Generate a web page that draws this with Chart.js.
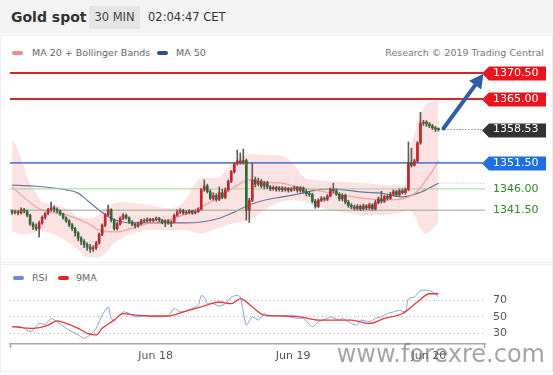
<!DOCTYPE html>
<html>
<head>
<meta charset="utf-8">
<script src="https://cdn.jsdelivr.net/npm/chart.js@4.4.1/dist/chart.umd.min.js"></script>
<style>
  body { margin: 0; background: #fff; font-family: "DejaVu Sans", sans-serif; }
  #wrap { position: relative; width: 553px; height: 375px; overflow: hidden; background: #fff; }
  .abs { position: absolute; white-space: nowrap; }
  #header { left: 0; top: 0; width: 553px; height: 34px; background: #f4f4f4; }
  #title { left: 11px; top: 6px; line-height: 23px; font-size: 14px; font-weight: bold; color: #333; }
  #period { left: 89px; top: 6px; width: 51px; height: 23px; line-height: 23px; background: #e5e5e5; text-align: center; font-size: 11.5px; color: #444; }
  #clock { left: 148px; top: 6px; line-height: 23px; font-size: 11.5px; color: #333; }
  .panel { border: 1px solid #eeeeee; }
  .lg { font-size: 9.5px; color: #666; line-height: 12px; }
  .sw { height: 4px; width: 11px; border-radius: 2px; }
  #mark { right: 8px; top: 340px; font-size: 24px; color: rgba(105, 105, 105, 0.6); }
</style>
</head>
<body>
<div id="wrap">
  <div id="header" class="abs"></div>
  <div id="title" class="abs">Gold spot</div>
  <div id="period" class="abs">30 MIN</div>
  <div id="clock" class="abs">02:04:47 CET</div>

  <div class="abs panel" style="left:0;top:35px;width:551px;height:226px"></div>
  <div class="abs panel" style="left:0;top:264px;width:551px;height:106px"></div>

  <div class="abs sw" style="left:12px;top:51px;background:#f08a8a"></div>
  <div class="abs lg" style="left:32px;top:47px">MA 20 + Bollinger Bands</div>
  <div class="abs sw" style="left:157px;top:51px;background:#2c4e8a"></div>
  <div class="abs lg" style="left:176px;top:47px">MA 50</div>
  <div class="abs lg" style="right:9px;top:47px;color:#777">Research © 2019 Trading Central</div>

  <div class="abs sw" style="left:13px;top:276px;background:#6a8ad8"></div>
  <div class="abs lg" style="left:32px;top:272px">RSI</div>
  <div class="abs sw" style="left:58px;top:276px;background:#e02525"></div>
  <div class="abs lg" style="left:76px;top:272px">9MA</div>

  <canvas id="priceChart" class="abs" width="553" height="196" style="left:0;top:62px"></canvas>
  <canvas id="rsiChart" class="abs" width="553" height="80" style="left:0;top:284px"></canvas>

  <div id="mark" class="abs">www.forexre.com</div>
</div>

<script>
// Gold spot 30 min – candles, MA20 + Bollinger, MA50, key levels, RSI panel

const opens = [
  1341.3, 1341.0, 1341.2, 1340.9, 1341.6, 1341.3, 1340.4, 1338.6, 1338.0, 1337.6,
  1338.8, 1340.0, 1340.8, 1341.6, 1342.0, 1341.7, 1341.3, 1340.7, 1339.9, 1339.2,
  1338.4, 1337.6, 1336.7, 1335.6, 1334.9, 1334.2, 1333.7, 1333.3, 1333.6, 1334.6,
  1336.4, 1338.3, 1340.5, 1341.6, 1339.4, 1337.6, 1338.6, 1339.8, 1340.4, 1339.9,
  1339.0, 1338.5, 1338.2, 1338.6, 1339.3, 1339.2, 1339.6, 1339.3, 1339.5, 1339.8,
  1339.4, 1339.0, 1339.2, 1338.8, 1339.0, 1340.4, 1341.1, 1341.4, 1340.9, 1341.0,
  1341.3, 1340.9, 1341.2, 1341.7, 1345.8, 1346.6, 1345.4, 1344.0, 1344.6, 1343.8,
  1345.2, 1344.2, 1345.8, 1347.6, 1349.6, 1351.3, 1351.9, 1351.5, 1352.0, 1341.5,
  1343.6, 1347.9, 1347.0, 1347.6, 1346.6, 1347.3, 1346.4, 1346.0, 1346.3, 1345.9,
  1346.2, 1345.8, 1346.1, 1345.7, 1346.0, 1346.3, 1345.7, 1346.2, 1345.4, 1345.0,
  1344.8, 1343.4, 1342.3, 1343.6, 1344.0, 1343.8, 1344.5, 1345.9, 1345.6, 1344.9,
  1343.9, 1344.6, 1343.2, 1342.5, 1342.2, 1341.9, 1342.3, 1341.8, 1342.4, 1342.0,
  1342.6, 1341.8, 1343.1, 1343.9, 1343.4, 1344.4, 1344.0, 1344.9, 1345.4, 1344.8,
  1345.6, 1345.2, 1345.9, 1351.5, 1351.0, 1351.9, 1355.7, 1359.9, 1360.1, 1359.7,
  1359.3, 1358.9, 1358.6
];
const closes = [
  1341.0, 1341.2, 1340.9, 1341.6, 1341.3, 1340.4, 1338.6, 1338.0, 1337.6, 1338.8,
  1340.0, 1340.8, 1341.6, 1342.0, 1341.7, 1341.3, 1340.7, 1339.9, 1339.2, 1338.4,
  1337.6, 1336.7, 1335.6, 1334.9, 1334.2, 1333.7, 1333.3, 1333.6, 1334.6, 1336.4,
  1338.3, 1340.5, 1341.6, 1339.4, 1337.6, 1338.6, 1339.8, 1340.4, 1339.9, 1339.0,
  1338.5, 1338.2, 1338.6, 1339.3, 1339.2, 1339.6, 1339.3, 1339.5, 1339.8, 1339.4,
  1339.0, 1339.2, 1338.8, 1339.0, 1340.4, 1341.1, 1341.4, 1340.9, 1341.0, 1341.3,
  1340.9, 1341.2, 1341.7, 1345.8, 1346.6, 1345.4, 1344.0, 1344.6, 1343.8, 1345.2,
  1344.2, 1345.8, 1347.6, 1349.6, 1351.3, 1351.9, 1351.5, 1352.0, 1341.5, 1343.6,
  1347.9, 1347.0, 1347.6, 1346.6, 1347.3, 1346.4, 1346.0, 1346.3, 1345.9, 1346.2,
  1345.8, 1346.1, 1345.7, 1346.0, 1346.3, 1345.7, 1346.2, 1345.4, 1345.0, 1344.8,
  1343.4, 1342.3, 1343.6, 1344.0, 1343.8, 1344.5, 1345.9, 1345.6, 1344.9, 1343.9,
  1344.6, 1343.2, 1342.5, 1342.2, 1341.9, 1342.3, 1341.8, 1342.4, 1342.0, 1342.6,
  1341.8, 1343.1, 1343.9, 1343.4, 1344.4, 1344.0, 1344.9, 1345.4, 1344.8, 1345.6,
  1345.2, 1345.9, 1351.5, 1351.0, 1351.9, 1355.7, 1359.9, 1360.1, 1359.7, 1359.3,
  1358.9, 1358.6, 1358.53
];
const highs = [
  1341.6, 1341.5, 1341.4, 1342.0, 1341.9, 1341.5, 1340.6, 1339.0, 1338.6, 1339.2,
  1340.3, 1341.0, 1341.9, 1343.2, 1342.4, 1342.0, 1341.6, 1340.9, 1340.1, 1339.5,
  1338.7, 1337.9, 1337.0, 1335.9, 1335.3, 1334.6, 1334.3, 1334.0, 1334.9, 1336.7,
  1338.6, 1340.8, 1342.6, 1341.8, 1339.7, 1339.0, 1340.1, 1340.8, 1340.7, 1340.1,
  1339.3, 1338.8, 1339.0, 1339.6, 1339.7, 1339.9, 1339.8, 1339.8, 1340.1, 1340.0,
  1339.6, 1339.5, 1339.5, 1339.3, 1340.7, 1341.6, 1341.8, 1341.7, 1341.4, 1341.6,
  1341.5, 1341.5, 1342.0, 1346.1, 1347.9, 1347.0, 1345.8, 1345.2, 1345.0, 1346.4,
  1345.9, 1346.2, 1347.9, 1349.9, 1351.6, 1354.2, 1353.6, 1354.4, 1352.3, 1344.0,
  1351.5, 1348.5, 1348.3, 1348.0, 1347.6, 1347.6, 1346.7, 1346.6, 1346.6, 1346.5,
  1346.5, 1346.4, 1346.3, 1346.3, 1346.6, 1346.5, 1346.5, 1346.4, 1345.9, 1345.5,
  1345.1, 1343.8, 1343.9, 1344.4, 1344.3, 1344.8, 1346.2, 1347.2, 1346.0, 1345.2,
  1345.0, 1344.9, 1343.6, 1342.9, 1342.6, 1342.7, 1342.6, 1342.8, 1342.7, 1343.0,
  1342.9, 1343.6, 1344.3, 1345.5, 1344.7, 1344.8, 1345.3, 1345.8, 1345.7, 1346.0,
  1346.0, 1346.2, 1355.9, 1354.6, 1352.3, 1356.0, 1362.2, 1360.5, 1360.4, 1360.0,
  1359.6, 1359.2, 1358.9
];
const lows = [
  1340.6, 1340.7, 1340.5, 1340.7, 1340.9, 1340.1, 1338.3, 1337.4, 1337.2, 1335.8,
  1338.5, 1339.6, 1340.5, 1341.3, 1341.2, 1340.9, 1340.4, 1339.6, 1338.9, 1338.0,
  1337.2, 1336.0, 1335.0, 1334.2, 1333.6, 1333.0, 1332.6, 1332.8, 1333.2, 1334.3,
  1336.1, 1338.0, 1340.2, 1339.0, 1337.3, 1337.3, 1338.3, 1339.5, 1339.6, 1338.7,
  1338.2, 1337.7, 1337.9, 1338.4, 1338.9, 1339.0, 1339.0, 1339.0, 1339.3, 1339.1,
  1338.6, 1338.0, 1338.5, 1338.0, 1338.8, 1340.2, 1340.8, 1340.6, 1340.6, 1340.7,
  1340.6, 1340.7, 1341.0, 1341.5, 1345.5, 1345.1, 1343.7, 1343.6, 1343.4, 1343.5,
  1343.9, 1343.9, 1345.5, 1347.3, 1349.3, 1351.0, 1351.2, 1351.2, 1339.4, 1338.9,
  1343.3, 1346.4, 1346.6, 1346.2, 1346.0, 1346.0, 1345.6, 1345.7, 1345.5, 1345.5,
  1345.4, 1345.5, 1345.3, 1345.4, 1345.6, 1345.3, 1345.3, 1345.1, 1344.5, 1344.4,
  1343.0, 1341.9, 1342.0, 1343.3, 1343.4, 1343.5, 1344.3, 1345.2, 1344.6, 1343.5,
  1343.4, 1342.8, 1342.1, 1341.8, 1341.5, 1341.5, 1341.4, 1341.5, 1341.6, 1341.6,
  1341.5, 1341.5, 1342.8, 1343.0, 1343.1, 1343.6, 1343.8, 1344.6, 1344.4, 1344.5,
  1344.9, 1344.9, 1345.6, 1350.6, 1350.8, 1351.6, 1355.4, 1359.4, 1359.2, 1358.9,
  1358.5, 1358.1, 1358.2
];

// indicator lines, read at a handful of candle positions
const ma20Idx = [0, 9, 18, 25, 29, 35, 40, 46, 52, 57, 63, 69, 74, 79, 84, 90, 95, 101, 106, 112, 117, 123, 129, 132, 135, 138, 140, 142];
const ma20Val = [1346.4, 1341.8, 1340.5, 1338.8, 1337.3, 1336.9, 1337.7, 1338.8, 1339.4, 1340.5, 1342.2, 1344.3, 1346.4, 1347.9, 1347.4, 1347.2, 1346.4, 1345.8, 1345.1, 1344.5, 1344.0, 1343.7, 1343.8, 1344.3, 1345.5, 1348.0, 1349.8, 1352.0];
const ma50Idx = [0, 7, 18, 22, 25, 29, 33, 40, 52, 58, 63, 69, 74, 79, 84, 90, 95, 101, 106, 117, 123, 130, 136, 142];
const ma50Val = [1346.8, 1346.6, 1345.8, 1345.1, 1343.6, 1341.5, 1339.8, 1338.8, 1338.8, 1338.8, 1339.0, 1339.8, 1341.1, 1342.6, 1343.6, 1344.3, 1344.9, 1345.7, 1346.0, 1345.3, 1345.1, 1344.3, 1345.3, 1347.2];
const bbIdx = [0, 2, 4, 6, 8, 10, 13, 16, 19, 22, 25, 28, 31, 34, 37, 40, 46, 52, 57, 63, 68, 74, 79, 85, 90, 94, 97, 101, 106, 112, 118, 124, 129, 131, 132, 134, 136, 138, 140, 142];
const bbUpper = [1356.6, 1354.2, 1350.6, 1347.0, 1345.1, 1343.2, 1342.9, 1342.4, 1341.5, 1340.0, 1339.8, 1340.2, 1341.8, 1343.0, 1343.2, 1343.0, 1342.6, 1341.9, 1343.0, 1348.3, 1348.3, 1351.8, 1353.3, 1353.1, 1353.0, 1351.0, 1348.5, 1347.9, 1347.6, 1347.4, 1347.2, 1346.8, 1346.6, 1347.0, 1352.5, 1357.5, 1361.8, 1363.8, 1364.5, 1364.8];
const bbLower = [1337.0, 1336.7, 1336.4, 1336.6, 1336.9, 1337.1, 1336.6, 1335.8, 1334.6, 1333.2, 1331.6, 1331.5, 1332.4, 1334.5, 1335.8, 1336.6, 1337.3, 1337.3, 1337.3, 1336.6, 1337.6, 1338.8, 1339.4, 1342.0, 1343.4, 1343.6, 1343.4, 1342.4, 1341.5, 1340.9, 1340.5, 1340.5, 1340.9, 1341.3, 1341.5, 1340.5, 1337.5, 1336.5, 1337.5, 1339.0];

// key levels shown on the right
const levelValues = [1370.5, 1365.0, 1358.53, 1351.5, 1346.0, 1341.5];
const lastPrice = 1358.53;
const ma50Last = 1347.2;
const arrowFrom = [143.7, 1358.8];
const arrowTo = [157.0, 1370.3];

// RSI panel
const rsiIdx = [0, 3, 6, 8, 9, 11, 13, 15, 18, 22, 24, 26, 28, 30, 32, 33, 34, 37, 39, 41, 44, 47, 50, 52, 54, 56, 57, 60, 62, 63, 64, 65, 67, 69, 71, 73, 75, 76, 78, 80, 82, 84, 85, 89, 92, 95, 97, 100, 102, 105, 106, 109, 110, 113, 115, 116, 119, 121, 123, 125, 127, 129, 131, 132, 134, 136, 139, 141, 142];
const rsiVal = [38, 38, 32, 38, 42, 41, 48, 44, 36, 28, 24, 28, 36, 52, 62, 48, 46, 56, 54, 50, 51, 50, 50, 51, 60, 56, 56, 60, 64, 76, 74, 66, 66, 63, 66, 74, 76, 74, 40, 50, 46, 54, 51, 51, 50, 48, 48, 38, 44, 48, 50, 46, 48, 42, 40, 46, 44, 48, 50, 54, 56, 58, 56, 72, 74, 82, 82, 78, 74];
const rsiMaIdx = [0, 7, 12, 15, 18, 22, 25, 28, 30, 34, 37, 41, 46, 52, 57, 63, 69, 73, 76, 80, 84, 91, 96, 102, 107, 113, 119, 124, 130, 135, 139, 142];
const rsiMaVal = [38, 36, 40, 45, 42, 36, 30, 28, 36, 46, 54, 52, 51, 51, 56, 62, 68, 66, 72, 62, 52, 51, 50, 46, 46, 46, 42, 48, 54, 68, 78, 78];
const rsiLevels = [30, 50, 70];

const dayTicks = [47.8, 93.6, 138.8];
const dayLabels = ["Jun 18", "Jun 19", "Jun 20"];

const xMin = -0.7;
const xMax = 157.5;

const FONT = "DejaVu Sans";
const upColor = "#c8242c";
const downColor = "#2f6a34";

// tag look per level (null = plain text)
const levelTagColors = ["#e8151d", "#e8151d", "#333333", "#1e6fe4", null, null];
const levelTextColors = ["#ffffff", "#ffffff", "#ffffff", "#ffffff", "#2e8a2e", "#2e8a2e"];

function pts(xs, ys) {
  return xs.map((x, k) => ({ x: x, y: ys[k] }));
}

function levelLine(value, color, width, order) {
  return {
    type: "line",
    data: [{ x: xMin, y: value }, { x: xMax, y: value }],
    borderColor: color,
    borderWidth: width,
    pointRadius: 0,
    order: order,
  };
}

function dottedLine(fromX, value, color) {
  return {
    type: "line",
    data: [{ x: fromX, y: value }, { x: xMax, y: value }],
    borderColor: color,
    borderWidth: 1,
    borderDash: [1, 2],
    pointRadius: 0,
    order: 3,
  };
}

// ---------- plugins ----------

const tagPlugin = {
  id: "tags",
  beforeDraw(chart) {
    const { ctx, chartArea, scales } = chart;
    const r = chartArea.right;
    levelValues.forEach((v, i) => {
      const color = levelTagColors[i];
      if (!color) return;
      const y = Math.round(scales.y.getPixelForValue(v)) + 0.5;
      ctx.save();
      ctx.fillStyle = color;
      ctx.beginPath();
      ctx.moveTo(r - 3, y);
      ctx.lineTo(r + 4, y - 7);
      ctx.lineTo(r + 61, y - 7);
      ctx.lineTo(r + 61, y + 7);
      ctx.lineTo(r + 4, y + 7);
      ctx.closePath();
      ctx.fill();
      ctx.restore();
    });
  },
};

const arrowPlugin = {
  id: "arrow",
  afterDatasetsDraw(chart) {
    const { ctx, scales } = chart;
    const x0 = scales.x.getPixelForValue(arrowFrom[0]);
    const y0 = scales.y.getPixelForValue(arrowFrom[1]);
    const x1 = scales.x.getPixelForValue(arrowTo[0]);
    const y1 = scales.y.getPixelForValue(arrowTo[1]);
    const ang = Math.atan2(y1 - y0, x1 - x0);
    const head = 14;
    const bx = x1 - Math.cos(ang) * head;
    const by = y1 - Math.sin(ang) * head;
    ctx.save();
    ctx.strokeStyle = "#2d5ea6";
    ctx.fillStyle = "#2d5ea6";
    ctx.lineWidth = 4;
    ctx.lineCap = "round";
    ctx.beginPath();
    ctx.moveTo(x0, y0);
    ctx.lineTo(bx, by);
    ctx.stroke();
    ctx.beginPath();
    ctx.moveTo(x1, y1);
    ctx.lineTo(bx + Math.sin(ang) * 7.5, by - Math.cos(ang) * 7.5);
    ctx.lineTo(bx - Math.sin(ang) * 7.5, by + Math.cos(ang) * 7.5);
    ctx.closePath();
    ctx.fill();
    ctx.restore();
  },
};

const axisEndsPlugin = {
  id: "axisEnds",
  afterDraw(chart) {
    const { ctx, chartArea } = chart;
    ctx.save();
    ctx.strokeStyle = "#a8a8a8";
    ctx.lineWidth = 1.5;
    ctx.beginPath();
    ctx.moveTo(chartArea.left + 0.5, chartArea.bottom);
    ctx.lineTo(chartArea.left + 0.5, chartArea.bottom + 4);
    ctx.moveTo(chartArea.right - 0.5, chartArea.bottom);
    ctx.lineTo(chartArea.right - 0.5, chartArea.bottom + 4);
    ctx.stroke();
    ctx.restore();
  },
};

function fixAxis(width, height) {
  return (scale) => {
    if (width !== null) scale.width = width;
    if (height !== null) scale.height = height;
    scale.paddingTop = 0;
    scale.paddingBottom = 0;
    scale.paddingLeft = 0;
    scale.paddingRight = 0;
  };
}

// ---------- price chart ----------

const candleIdx = closes.map((_, i) => i);

new Chart(document.getElementById("priceChart"), {
  type: "bar",
  data: {
    datasets: [
      {
        type: "bar",
        data: candleIdx.map((i) => ({ x: i, y: [opens[i], closes[i]] })),
        backgroundColor: candleIdx.map((i) => (closes[i] >= opens[i] ? upColor : downColor)),
        barThickness: 2,
        minBarLength: 1,
        grouped: false,
        order: 1,
      },
      {
        type: "bar",
        data: candleIdx.map((i) => ({ x: i, y: [lows[i], highs[i]] })),
        backgroundColor: "#5c5c5c",
        barThickness: 1,
        grouped: false,
        order: 2,
      },
      levelLine(levelValues[0], "#d9252b", 2, 3),
      levelLine(levelValues[1], "#d9252b", 2, 3),
      levelLine(levelValues[3], "#5b80d0", 1.6, 3),
      levelLine(levelValues[4], "#a7d09e", 1, 3),
      levelLine(levelValues[5], "#92aa8d", 1, 3),
      dottedLine(candleIdx.length - 1, lastPrice, "#555555"),
      dottedLine(candleIdx.length - 1, ma50Last, "#a9b3c8"),
      {
        type: "line",
        data: pts(ma20Idx, ma20Val),
        borderColor: "#f0a0a0",
        borderWidth: 1.2,
        pointRadius: 0,
        cubicInterpolationMode: "monotone",
        order: 4,
      },
      {
        type: "line",
        data: pts(ma50Idx, ma50Val),
        borderColor: "#67799f",
        borderWidth: 1.2,
        pointRadius: 0,
        cubicInterpolationMode: "monotone",
        order: 4,
      },
      {
        type: "line",
        data: pts(bbIdx, bbUpper),
        borderColor: "rgba(0,0,0,0)",
        borderWidth: 0,
        pointRadius: 0,
        cubicInterpolationMode: "monotone",
        fill: "+1",
        backgroundColor: "rgba(249,190,190,0.45)",
        order: 6,
      },
      {
        type: "line",
        data: pts(bbIdx, bbLower),
        borderColor: "rgba(0,0,0,0)",
        borderWidth: 0,
        pointRadius: 0,
        cubicInterpolationMode: "monotone",
        fill: false,
        order: 6,
      },
    ],
  },
  options: {
    responsive: false,
    animation: false,
    devicePixelRatio: 1,
    layout: { padding: { left: 10, top: 0, right: 0, bottom: 0 } },
    plugins: { legend: { display: false }, tooltip: { enabled: false } },
    scales: {
      x: {
        type: "linear",
        min: xMin,
        max: xMax,
        offset: false,
        display: false,
      },
      y: {
        type: "linear",
        position: "right",
        min: 1331.4,
        max: 1372.8,
        grid: { display: false, drawTicks: false },
        border: { display: false },
        afterBuildTicks: (s) => {
          s.ticks = levelValues.map((v) => ({ value: v }));
        },
        afterFit: fixAxis(68, null),
        ticks: {
          autoSkip: false,
          padding: 8,
          color: (ctx) => levelTextColors[ctx.index],
          font: { family: FONT, size: 11 },
          callback: (v) => Number(v).toFixed(2),
        },
      },
    },
  },
  plugins: [tagPlugin, arrowPlugin],
});

// ---------- RSI chart ----------

new Chart(document.getElementById("rsiChart"), {
  type: "line",
  data: {
    datasets: [
      {
        data: pts(rsiIdx, rsiVal),
        borderColor: "#86a0dd",
        borderWidth: 1,
        pointRadius: 0,
        tension: 0.2,
        order: 2,
      },
      {
        data: pts(rsiMaIdx, rsiMaVal),
        borderColor: "#e23a3a",
        borderWidth: 1.3,
        pointRadius: 0,
        cubicInterpolationMode: "monotone",
        order: 1,
      },
    ],
  },
  options: {
    responsive: false,
    animation: false,
    devicePixelRatio: 1,
    layout: { padding: { left: 10, top: 4, right: 0, bottom: 0 } },
    plugins: { legend: { display: false }, tooltip: { enabled: false } },
    scales: {
      x: {
        type: "linear",
        min: xMin,
        max: xMax,
        offset: false,
        grid: { display: false, drawTicks: false },
        border: { display: true, color: "#a8a8a8", width: 1.5 },
        afterBuildTicks: (s) => {
          s.ticks = dayTicks.map((v) => ({ value: v }));
        },
        afterFit: fixAxis(null, 20),
        ticks: {
          autoSkip: false,
          maxRotation: 0,
          padding: 6,
          color: "#555",
          font: { family: FONT, size: 11 },
          callback: (v) => dayLabels[dayTicks.indexOf(v)],
        },
      },
      y: {
        type: "linear",
        position: "right",
        min: 17,
        max: 85,
        grid: { color: "#b4b4b4", drawTicks: false, lineWidth: 1 },
        border: { display: false, dash: [1, 3] },
        afterBuildTicks: (s) => {
          s.ticks = rsiLevels.map((v) => ({ value: v }));
        },
        afterFit: fixAxis(68, null),
        ticks: {
          padding: 8,
          color: "#555",
          font: { family: FONT, size: 11 },
        },
      },
    },
  },
  plugins: [axisEndsPlugin],
});
</script>
</body>
</html>
